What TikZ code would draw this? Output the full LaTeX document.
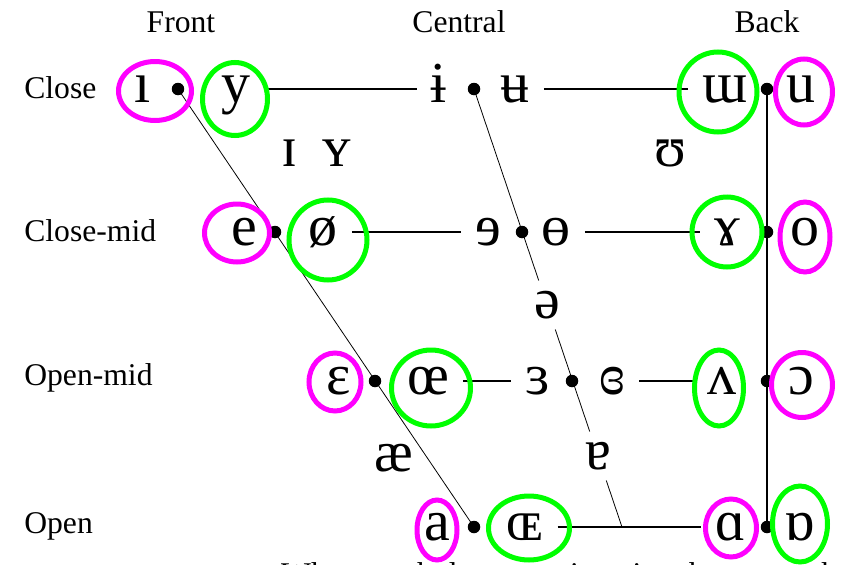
\documentclass[tikz,border=0pt]{standalone}
\usepackage{fontspec}
\setmainfont{Liberation Serif}
\newfontfamily\ipafont{Liberation Serif}

\definecolor{ringpink}{RGB}{255,0,255}
\definecolor{ringgreen}{RGB}{0,255,0}

\tikzset{
  vowel/.style={font=\ipafont\fontsize{33}{33}\selectfont,
    inner xsep=0.28cm, inner ysep=0.22cm, text height=15pt, text depth=0pt},
  rowname/.style={anchor=west, inner sep=0pt, font=\fontsize{18}{18}\selectfont},
  colname/.style={font=\fontsize{18}{18}\selectfont},
  vdot/.style={circle, fill=black, inner sep=0pt, minimum size=0.25cm},
  chartline/.style={line width=0.6pt},
  pinkring/.style={draw=ringpink, line width=0.1cm},
  greenring/.style={draw=ringgreen, line width=0.1cm}
}

\begin{document}
\begin{tikzpicture}[x=0.02cm, y=-0.02cm]

\path[use as bounding box, clip]
(0,0)
rectangle
(843,565);

% Heads
\node[colname] (front) at (181,22) {Front};
\node[colname] (central) at (459,22) {Central};
\node[colname] (back) at (767,22) {Back};

\node[rowname] (close) at (24,88) {Close};
\node[rowname] (closemid) at (24,231) {Close-mid};
\node[rowname] (openmid) at (24,378) {Open-mid};
\node[rowname] (open) at (24,526) {Open};

% Dots
\node[vdot] (fc) at (178,89) {};
\node[vdot] (fcm) at (275,232) {};
\node[vdot] (fom) at (375,381) {};
\node[vdot] (fo) at (474,527) {};

\node[vdot] (cc) at (474,89) {};
\node[vdot] (ccm) at (522,232) {};
\node[vdot] (com) at (572,381) {};
\coordinate (co) at (622,527);

\node[vdot] (bc) at (767,89) {};
\node[vdot] (bcm) at (767,232) {};
\node[vdot] (bom) at (767,381) {};
\node[vdot] (bo) at (767,527) {};

% Close
\node[vowel] (iFront) at (143,89) {ı};
\node[vowel] (yFront) at (236,89) {y};
\node[vowel] (iBar) at (439,89) {ɨ};
\node[vowel] (uBar) at (515,89) {ʉ};
\node[vowel] (mTurn) at (725,89) {ɯ};
\node[vowel] (uBack) at (801,89) {u};

% Near-close
\node[vowel] (iSmall) at (290,153) {ɪ};
\node[vowel] (ySmall) at (337,153) {ʏ};
\node[vowel] (upsilon) at (670,153) {ʊ};

% Close-mid
\node[vowel] (eFront) at (244,232) {e};
\node[vowel] (oSlash) at (323,232) {ø};
\node[vowel] (eRev) at (488,232) {ɘ};
\node[vowel] (oBar) at (556,232) {ɵ};
\node[vowel] (gamma) at (727,232) {ɤ};
\node[vowel] (oBack) at (805,232) {o};

% Mid
\node[vowel] (schwa) at (547,305) {ə};

% Open-mid
\node[vowel] (epsilon) at (339,381) {ɛ};
\node[vowel] (oeFront) at (428,381) {œ};
\node[vowel] (epsRev) at (538,381) {ɜ};
\node[vowel] (epsClosed) at (612,381) {ɞ};
\node[vowel] (vTurn) at (722,381) {ʌ};
\node[vowel] (oOpen) at (801,381) {ɔ};

% Near-open
\node[vowel] (ash) at (394,458) {æ};
\node[vowel] (aTurn) at (598,456) {ɐ};

% Open
\node[vowel] (aFront) at (437,527) {a};
\node[vowel] (oeOpen) at (525,527) {ɶ};
\node[vowel] (alpha) at (731,527) {ɑ};
\node[vowel] (alphaTurn) at (800,527) {ɒ};

% Caption
\node[anchor=base west, colname] (note)
at (275,584)
{When symbols appear in pairs, the one to the right represents a rounded vowel.};

% Chart lines
\draw[chartline] (yFront) -- (iBar);
\draw[chartline] (uBar) -- (mTurn);
\draw[chartline] (oSlash) -- (eRev);
\draw[chartline] (oBar) -- (gamma);
\draw[chartline] (oeFront) -- (epsRev);
\draw[chartline] (epsClosed) -- (vTurn);
\draw[chartline] (oeOpen) -- (alpha);

\draw[line width=0.45pt] (fc.center) -- (fo.center);
\draw[line width=0.45pt] (cc.center) -- (schwa);
\draw[line width=0.45pt] (schwa) -- (aTurn);
\draw[line width=0.45pt] (aTurn) -- (co);
\draw[chartline] (bc.center) -- (bo.center);

% Rings
\draw[pinkring] (155,91) ellipse [x radius=36.5, y radius=29.5];
\draw[greenring] (235,99) ellipse [x radius=32.5, y radius=36.5];
\draw[greenring] (718,92) ellipse [x radius=39, y radius=40];
\draw[pinkring] (804,92) ellipse [x radius=28.5, y radius=33];

\draw[pinkring] (237,233) ellipse [x radius=32.5, y radius=29];
\draw[greenring] (328,240) ellipse [x radius=39, y radius=40];
\draw[greenring] (727,232) ellipse [x radius=35, y radius=35];
\draw[pinkring] (805,237) ellipse [x radius=25, y radius=35];

\draw[pinkring] (335,382) ellipse [x radius=26, y radius=29];
\draw[greenring] (431,388) ellipse [x radius=39.5, y radius=38];
\draw[greenring] (719,388) ellipse [x radius=24.5, y radius=38];
\draw[pinkring] (802,385) ellipse [x radius=30.5, y radius=32.5];

\draw[pinkring] (437,530) ellipse [x radius=20, y radius=30];
\draw[greenring] (529,528) ellipse [x radius=40.5, y radius=32];
\draw[pinkring] (731,528) ellipse [x radius=25.5, y radius=29];
\draw[greenring] (800,524) ellipse [x radius=27.5, y radius=38];

\end{tikzpicture}
\end{document}
